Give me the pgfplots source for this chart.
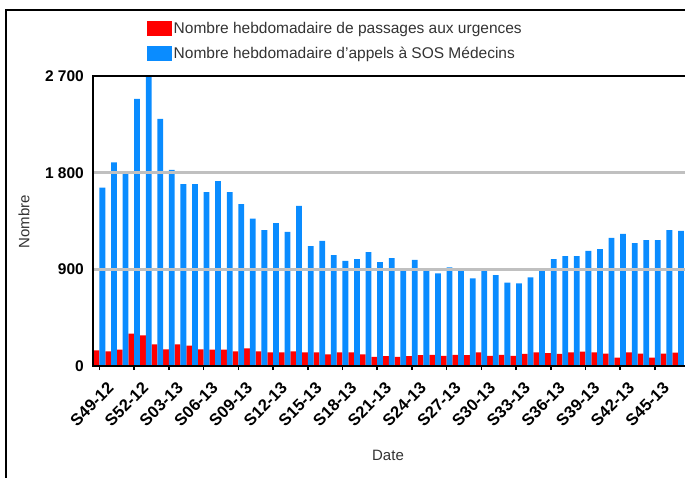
\documentclass[border=0pt]{standalone}
\usepackage{fontspec}
\setmainfont{Liberation Sans}
\usepackage{pgfplots}
\usepackage{pgfplotstable}
\pgfplotsset{compat=1.18}
\definecolor{sosblue}{RGB}{10,140,255}
\definecolor{urgred}{RGB}{255,0,0}
\definecolor{txtgray}{RGB}{51,51,51}
\definecolor{gridgray}{RGB}{192,192,192}
\pgfplotstableread{
idx urg sos
0 146 1660
1 137 1896
2 152 1815
3 301 2486
4 286 2700
5 202 2300
6 155 1825
7 202 1694
8 189 1694
9 155 1620
10 152 1722
11 152 1620
12 137 1508
13 165 1372
14 137 1266
15 128 1331
16 128 1248
17 137 1490
18 128 1117
19 128 1164
20 109 1033
21 128 978
22 128 996
23 109 1061
24 84 968
25 93 1005
26 84 884
27 93 987
28 102 894
29 104 863
30 95 919
31 104 903
32 102 816
33 128 887
34 95 847
35 104 776
36 95 770
37 112 826
38 128 900
39 121 996
40 112 1024
41 128 1024
42 133 1071
43 128 1089
44 115 1192
45 78 1229
46 128 1145
47 115 1173
48 78 1173
49 115 1266
50 125 1257
}\datatable
\begin{document}
\begin{tikzpicture}[x=1pt,y=1pt]
\useasboundingbox (0,0) rectangle (685,477);
\draw[line width=2pt] (6,-10) -- (6,467) -- (700,467);
\begin{axis}[
  at={(93pt,111pt)}, anchor=south west, scale only axis,
  width=594pt, height=290pt,
  xmin=-0.56, xmax=50.78, ymin=0, ymax=2700,
  axis on top,
  axis line style={black, line width=2pt},
  ymajorgrids, major grid style={gridgray, line width=2.5pt},
  xtick={0,3,...,48},
  xticklabels={\textbf{S49-12},\textbf{S52-12},\textbf{S03-13},\textbf{S06-13},\textbf{S09-13},\textbf{S12-13},\textbf{S15-13},\textbf{S18-13},\textbf{S21-13},\textbf{S24-13},\textbf{S27-13},\textbf{S30-13},\textbf{S33-13},\textbf{S36-13},\textbf{S39-13},\textbf{S42-13},\textbf{S45-13}},
  ytick={0,900,1800,2700},
  yticklabels={\textbf{0},\textbf{900},\textbf{1 800},\textbf{2 700}},
  tick pos=left, tick align=outside,
  major tick length=4pt,
  xtick style={black, line width=1.5pt},
  ytick style={draw=none},
  x tick label style={xshift=7pt, yshift=-11pt, rotate=45, anchor=north east, font=\fontsize{16.5}{18}\selectfont, inner sep=0pt},
  yticklabel style={font=\fontsize{15.5}{18}\selectfont, inner sep=1pt, xshift=-4pt},
  xlabel={Date}, ylabel={Nombre},
  xlabel style={at={(axis description cs:0.4966,-0.310)}, anchor=center, font=\fontsize{15}{18}\selectfont, text=txtgray},
  ylabel style={at={(axis description cs:-0.116,0.497)}, anchor=center, font=\fontsize{15}{18}\selectfont, text=txtgray},
  legend style={at={(axis description cs:0.0909,1.19)}, anchor=north west, draw=none, fill=none,
    font=\fontsize{15.5}{18}\selectfont, text=txtgray, inner sep=0pt, row sep=9pt,
    nodes={inner sep=1.5pt}},
  legend cell align=left,
]
\addplot[ybar, fill=urgred, draw=none, bar width=0.5, bar shift=-0.25,
  legend image code/.code={\fill[urgred] (0pt,-7.5pt) rectangle (25pt,7.5pt);}]
  table[x=idx, y=urg] {\datatable};
\addlegendentry{Nombre hebdomadaire de passages aux urgences}
\addplot[ybar, fill=sosblue, draw=none, bar width=0.5, bar shift=0.25,
  legend image code/.code={\fill[sosblue] (0pt,-7.5pt) rectangle (25pt,7.5pt);}]
  table[x=idx, y=sos] {\datatable};
\addlegendentry{Nombre hebdomadaire d'appels à SOS Médecins}
\end{axis}
\end{tikzpicture}
\end{document}
